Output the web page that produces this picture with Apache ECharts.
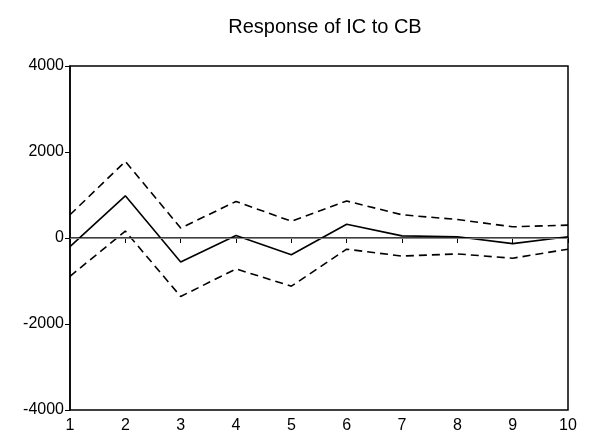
<!DOCTYPE html>
<html lang="en">
<head>
    <meta charset="UTF-8">
    <title>Response of IC to CB</title>
</head>
<body style="margin:0;background:#fff;">
<div id="echart" style="width: 591px; height: 445px;"></div>

<script src="https://cdn.jsdelivr.net/npm/echarts@6/dist/echarts.min.js"></script>
<script>
    // periods on the x axis
    var periods = ['1', '2', '3', '4', '5', '6', '7', '8', '9', '10'];
    // impulse response and its +/- 2 s.e. bands
    var response = [-200, 980, -560, 60, -390, 320, 50, 30, -130, 30];
    var upperBand = [540, 1780, 230, 850, 390, 860, 540, 430, 260, 300];
    var lowerBand = [-890, 160, -1360, -720, -1120, -260, -420, -370, -470, -260];
    var yTicks = [-4000, -2000, 0, 2000, 4000];

    var myChart = echarts.init(document.getElementById('echart'));
    var font = 'Liberation Sans, Arial, sans-serif';

    var option = {
        animation: false,
        title: {
            text: 'Response of IC to CB',
            left: 320,
            top: 12,
            textAlign: 'center',
            textStyle: {fontFamily: font, fontSize: 20, fontWeight: 'normal', color: '#000'}
        },
        grid: {
            left: 70, right: 23, top: 66, bottom: 35,
            show: true,
            borderColor: '#000',
            borderWidth: 1.5
        },
        xAxis: {
            type: 'category',
            data: periods,
            boundaryGap: false,
            axisLine: {lineStyle: {color: '#000', width: 1.5}},
            axisTick: {length: 5, alignWithLabel: true, lineStyle: {color: '#000'}},
            axisLabel: {color: '#000', fontFamily: font, fontSize: 16, margin: 8}
        },
        yAxis: {
            type: 'value',
            min: yTicks[0],
            max: yTicks[yTicks.length - 1],
            interval: 2000,
            splitLine: {show: false},
            axisLine: {show: true, lineStyle: {color: '#000', width: 1.5}},
            axisTick: {show: true, length: 5, lineStyle: {color: '#000'}},
            axisLabel: {
                color: '#000', fontFamily: font, fontSize: 16, margin: 6,
                formatter: function (v) { return String(v); }
            }
        },
        series: [
            {
                type: 'line',
                data: response,
                symbol: 'none',
                lineStyle: {color: '#000', width: 1.6},
                markLine: {
                    silent: true,
                    symbol: 'none',
                    label: {show: false},
                    lineStyle: {color: '#999', width: 0.8, type: 'solid'},
                    data: [{yAxis: 0}]
                }
            },
            {
                type: 'line',
                data: upperBand,
                symbol: 'none',
                lineStyle: {color: '#000', width: 1.6, type: [8, 5]}
            },
            {
                type: 'line',
                data: lowerBand,
                symbol: 'none',
                lineStyle: {color: '#000', width: 1.6, type: [8, 5]}
            }
        ]
    };
    myChart.setOption(option, true);
</script>
</body>
</html>
